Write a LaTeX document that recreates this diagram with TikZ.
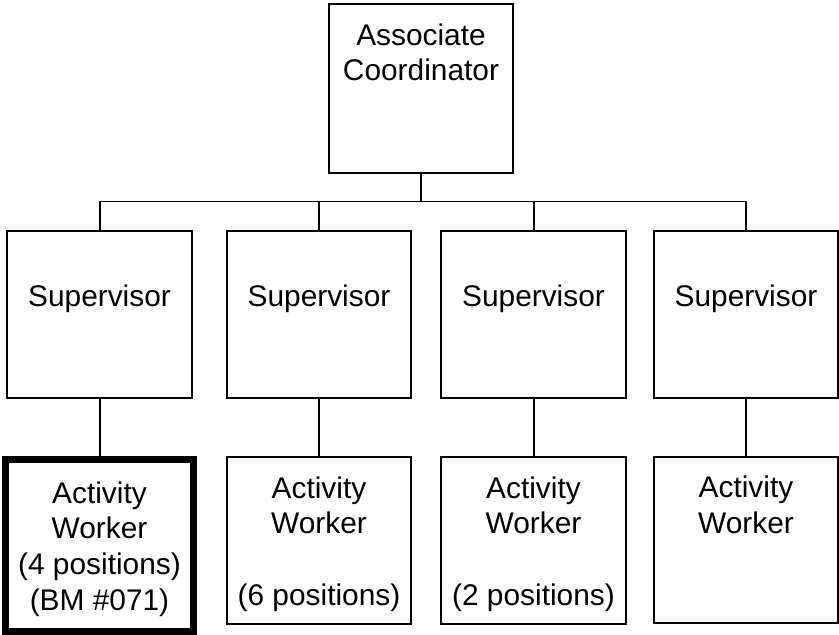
\documentclass[tikz,border=0pt]{standalone}
\usepackage{fontspec}
\setmainfont{Liberation Sans}
\usetikzlibrary{positioning}

\begin{document}
\begin{tikzpicture}[
  x=0.02cm, y=-0.02cm,
  box/.style={rectangle, draw=black, line width=0.04cm, outer sep=0pt,
              minimum width=3.7cm, minimum height=3.34cm},
  leadbox/.style={box, minimum width=3.68cm, minimum height=3.38cm},
  keybox/.style={box, line width=0.14cm, minimum width=3.77cm, minimum height=3.45cm},
  txt/.style={align=center, inner sep=0pt, font=\fontsize{17}{20.4}\selectfont},
  link/.style={line width=0.04cm, black}
]
\useasboundingbox (0,0) rectangle (839,635);

% boxes
\node[leadbox] (coord) at (421,88.5) {};
\node[box]     (sup1)  at (99.5,314.5) {};
\node[box]     (sup2)  at (319,314.5) {};
\node[box]     (sup3)  at (533.5,314.5) {};
\node[box]     (sup4)  at (746,314.5) {};
\node[keybox]  (wrk1)  at (99.5,545.75) {};
\node[box]     (wrk2)  at (319,540.5) {};
\node[box]     (wrk3)  at (533.5,540.5) {};
\node[box]     (wrk4)  at (746,540) {};

% texts
\node[txt, below=0.38cm of coord.north] (coord-t) {Associate\\Coordinator};
\node[txt, below=1.06cm of sup1.north]  (sup1-t)  {Supervisor};
\node[txt, below=1.06cm of sup2.north]  (sup2-t)  {Supervisor};
\node[txt, below=1.06cm of sup3.north]  (sup3-t)  {Supervisor};
\node[txt, below=1.06cm of sup4.north]  (sup4-t)  {Supervisor};
\node[txt, below=0.43cm of wrk1.north]  (wrk1-t)  {Activity\\Worker\\(4 positions)\\(BM \#071)};
\node[txt, below=0.38cm of wrk2.north]  (wrk2-t)  {Activity\\Worker\\~\\(6 positions)};
\node[txt, below=0.38cm of wrk3.north]  (wrk3-t)  {Activity\\Worker\\~\\(2 positions)};
\node[txt, below=0.38cm of wrk4.north]  (wrk4-t)  {Activity\\Worker};

% connectors
\coordinate (bus) at (421,201.5);
\draw[link] (coord.south) -- (coord.south |- bus);
\draw[link] (sup1.north) -- (sup1.north |- bus) -- (sup4.north |- bus) -- (sup4.north);
\draw[link] (sup2.north) -- (sup2.north |- bus);
\draw[link] (sup3.north) -- (sup3.north |- bus);
\foreach \i in {1,...,4}
  \draw[link] (sup\i.south) -- (wrk\i.north);
\end{tikzpicture}
\end{document}
